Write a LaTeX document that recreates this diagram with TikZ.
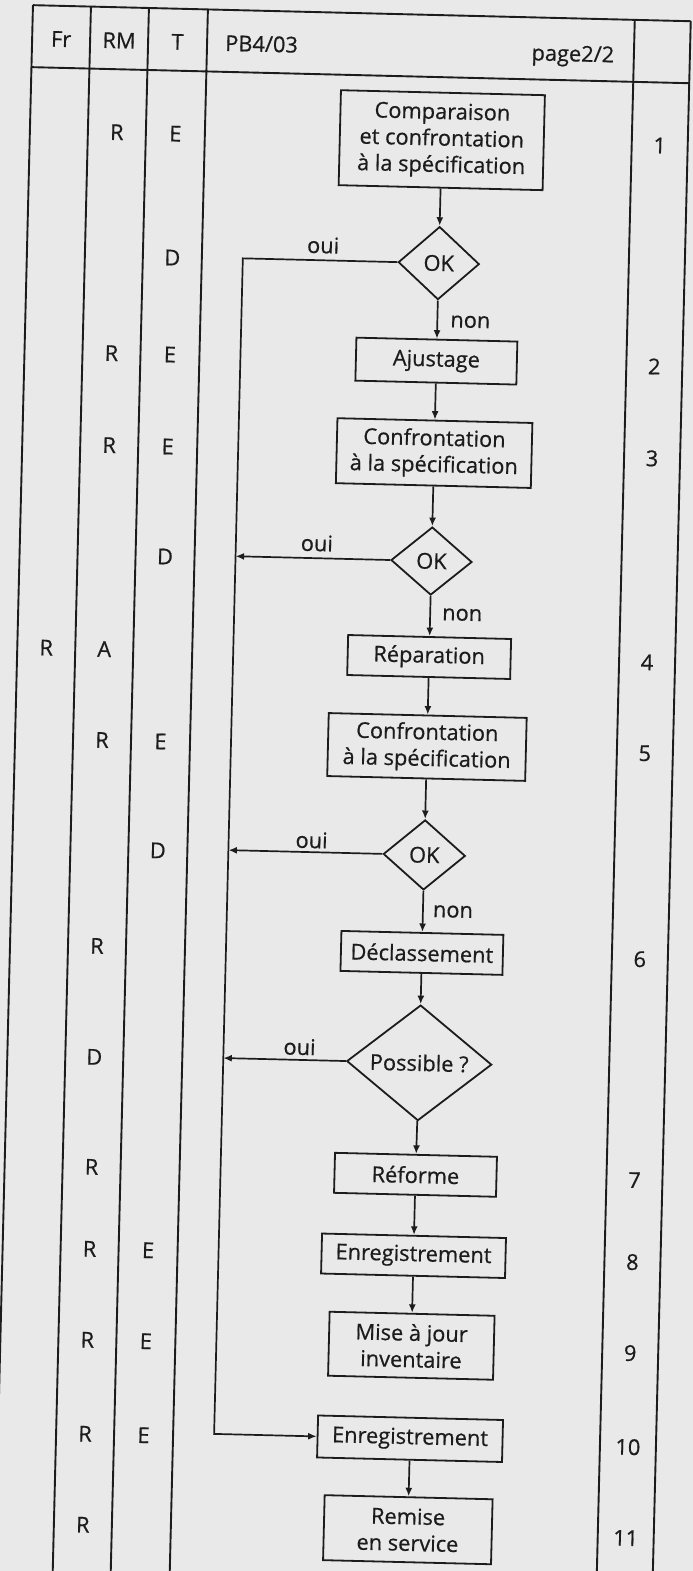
\documentclass[tikz,border=0pt]{standalone}
\usepackage{fontspec}
\setmainfont{Open Sans}[UprightFeatures={FakeBold=0.6}]
\usetikzlibrary{shapes.geometric,arrows.meta}
\definecolor{paper}{RGB}{233,233,233}
\definecolor{ink}{RGB}{28,28,28}
\newcommand\flowfont{\fontsize{21.8}{26.5}\selectfont}
\begin{document}
\begin{tikzpicture}[x=1pt,y=-1pt,
  rulel/.style={draw=ink,line width=1.9pt},
  stepbox/.style={draw=ink,line width=1.8pt,inner sep=0pt,align=center,font=\flowfont,text=ink},
  dia/.style={diamond,draw=ink,line width=1.8pt,inner sep=0pt,align=center,font=\flowfont,text=ink},
  arr/.style={draw=ink,line width=1.7pt,-{Latex[length=8.5pt,width=7pt]}},
  lbl/.style={font=\flowfont,text=ink,inner sep=0pt}]
\fill[paper] (0,0) rectangle (693,1571);
\useasboundingbox (0,0) rectangle (693,1571);
\begin{scope}[rotate around={-1.4:(346,785)},transform shape]
% table rules
\draw[rulel] (14,13) -- (672,13);
\draw[rulel] (14,75) -- (672,75);
\draw[rulel] (14,13) -- (14,1630);
\draw[rulel] (72,13) -- (72,1630);
\draw[rulel] (130,13) -- (130,1630);
\draw[rulel] (189,13) -- (189,1630);
\draw[rulel] (616,13) -- (616,1630);
\draw[rulel] (672,13) -- (672,1630);
% header
\node[lbl,anchor=base] (hFr) at (43,54) {Fr};
\node[lbl,anchor=base] (hRM) at (101,54) {RM};
\node[lbl,anchor=base] (hT) at (159.5,54) {T};
\node[lbl,anchor=base west] (hPB) at (207,54) {PB4/03};
\node[lbl,anchor=base] (hpage) at (555,56) {page2/2};
% flow
\node[stepbox,minimum width=204,minimum height=95] (b1) at (426,138) {Comparaison\\et confrontation\\à la spécification};
\node[dia,minimum width=81,minimum height=73] (d1) at (426,261) {OK};
\node[stepbox,minimum width=161,minimum height=43] (b2) at (426,359) {Ajustage};
\node[stepbox,minimum width=195,minimum height=65] (b3) at (426,451) {Confrontation\\à la spécification};
\node[dia,minimum width=81,minimum height=68] (d2) at (426,559) {OK};
\node[stepbox,minimum width=163,minimum height=40] (b4) at (426,655) {Réparation};
\node[stepbox,minimum width=198,minimum height=63] (b5) at (426,745) {Confrontation\\à la spécification};
\node[dia,minimum width=82,minimum height=70] (d3) at (426,853) {OK};
\node[stepbox,minimum width=162,minimum height=40] (b6) at (426,951) {Déclassement};
\node[dia,minimum width=145,minimum height=100] (d4) at (426,1061) {Possible ?};
\node[stepbox,minimum width=162,minimum height=40] (b7) at (425,1173) {Réforme};
\node[stepbox,minimum width=184,minimum height=40] (b8) at (425,1254) {Enregistrement};
\node[stepbox,minimum width=165,minimum height=64] (b9) at (425,1344) {Mise à jour\\inventaire};
\node[stepbox,minimum width=185,minimum height=42] (b10) at (426,1437) {Enregistrement};
\node[stepbox,minimum width=168,minimum height=65] (b11) at (426,1528) {Remise\\en service};
% main arrows
\draw[arr] (b1) -- (d1);
\draw[arr] (d1) -- (b2);
\draw[arr] (b2) -- (b3);
\draw[arr] (b3) -- (d2);
\draw[arr] (d2) -- (b4);
\draw[arr] (b4) -- (b5);
\draw[arr] (b5) -- (d3);
\draw[arr] (d3) -- (b6);
\draw[arr] (b6) -- (d4);
\draw[arr] (d4) -- (b7);
\draw[arr] (b7) -- (b8);
\draw[arr] (b8) -- (b9);
\draw[arr] (b10) -- (b11);
% oui loop
\coordinate (l1) at (230,261);
\coordinate (l2) at (230,559);
\coordinate (l3) at (230,853);
\coordinate (l4) at (230,1061);
\coordinate (l5) at (230,1437);
\draw[arr] (d1.west) -- (l1) -- (l5) -- (b10.west);
\draw[arr] (d2.west) -- (l2);
\draw[arr] (d3.west) -- (l3);
\draw[arr] (d4.west) -- (l4);
\node[lbl] (o1) at (310,246) {oui};
\node[lbl] (o2) at (311,544) {oui};
\node[lbl] (o3) at (313,841) {oui};
\node[lbl] (o4) at (306,1048) {oui};
\node[lbl] (n1) at (459,319) {non};
\node[lbl] (n2) at (458,612) {non};
\node[lbl] (n3) at (456,909) {non};
% responsibility columns
\node[lbl] (r1a) at (101,138) {R};
\node[lbl] (r1b) at (159.5,138) {E};
\node[lbl] (s1) at (644,138) {1};
\node[lbl] (r1d) at (159.5,262) {D};
\node[lbl] (r2a) at (101,359) {R};
\node[lbl] (r2b) at (159.5,359) {E};
\node[lbl] (s2) at (644,359) {2};
\node[lbl] (r3a) at (101,451) {R};
\node[lbl] (r3b) at (159.5,451) {E};
\node[lbl] (s3) at (644,451) {3};
\node[lbl] (r3d) at (159.5,561) {D};
\node[lbl] (r4f) at (43,655) {R};
\node[lbl] (r4a) at (101,655) {A};
\node[lbl] (s4) at (644,655) {4};
\node[lbl] (r5a) at (101,746) {R};
\node[lbl] (r5b) at (159.5,746) {E};
\node[lbl] (s5) at (644,746) {5};
\node[lbl] (r5d) at (159.5,855) {D};
\node[lbl] (r6a) at (101,952) {R};
\node[lbl] (s6) at (644,952) {6};
\node[lbl] (r6d) at (101,1063) {D};
\node[lbl] (r7a) at (101,1173) {R};
\node[lbl] (s7) at (644,1173) {7};
\node[lbl] (r8a) at (101,1255) {R};
\node[lbl] (r8b) at (159.5,1255) {E};
\node[lbl] (s8) at (644,1255) {8};
\node[lbl] (r9a) at (101,1346) {R};
\node[lbl] (r9b) at (159.5,1346) {E};
\node[lbl] (s9) at (644,1346) {9};
\node[lbl] (r10a) at (101,1440) {R};
\node[lbl] (r10b) at (159.5,1440) {E};
\node[lbl] (s10) at (644,1440) {10};
\node[lbl] (r11a) at (101,1531) {R};
\node[lbl] (s11) at (644,1531) {11};
\end{scope}
\end{tikzpicture}
\end{document}
